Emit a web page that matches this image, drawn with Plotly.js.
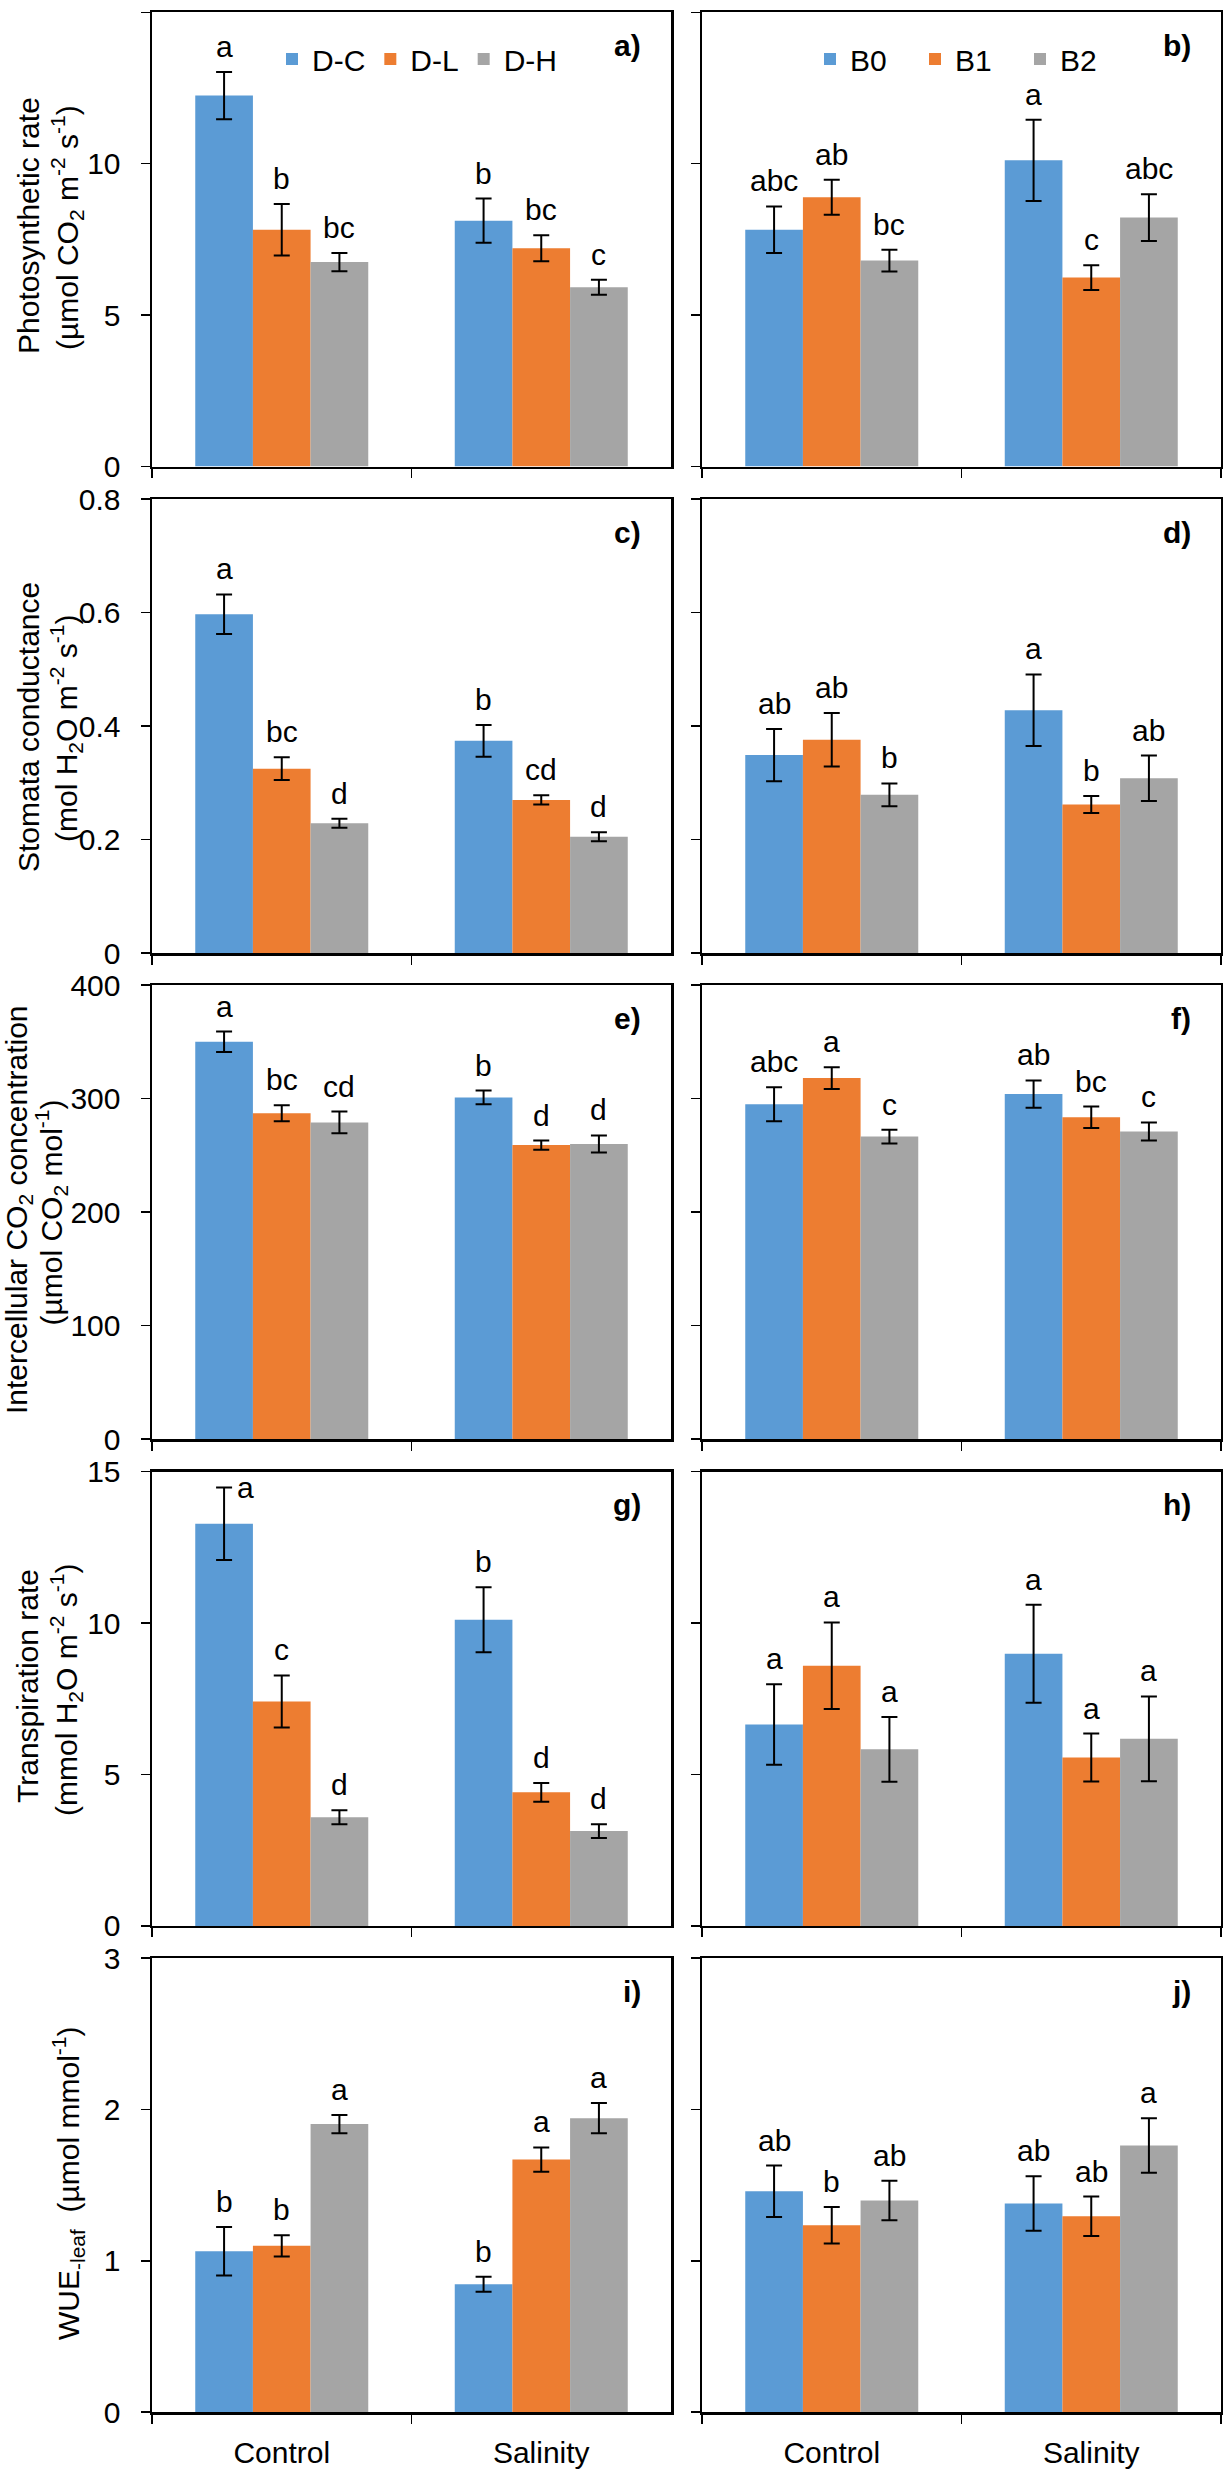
<!DOCTYPE html>
<html><head><meta charset="utf-8">
<script src="https://cdn.plot.ly/plotly-3.0.1.min.js"></script>
<style>html,body{margin:0;padding:0;background:#fff}#chart{width:1223px;height:2469px}</style>
</head><body><div id="chart"></div>
<script>
// ---------- data ----------
const groups = ['Control', 'Salinity'];
const seriesD = ['D-C', 'D-L', 'D-H'];
const seriesB = ['B0', 'B1', 'B2'];
const colors = ['#5B9BD5', '#ED7D31', '#A5A5A5'];

// a) photosynthetic rate, D series  (rows = series, cols = groups)
const photoD      = [[12.25, 8.12], [7.82, 7.21], [6.75, 5.92]];
const photoD_err  = [[0.78, 0.73], [0.85, 0.43], [0.30, 0.25]];
const photoD_let  = [['a', 'b'], ['b', 'bc'], ['bc', 'c']];
// b) photosynthetic rate, B series
const photoB      = [[7.82, 10.11], [8.89, 6.24], [6.80, 8.22]];
const photoB_err  = [[0.77, 1.34], [0.58, 0.41], [0.36, 0.77]];
const photoB_let  = [['abc', 'a'], ['ab', 'c'], ['bc', 'abc']];
// c) stomata conductance, D
const stomD       = [[0.597, 0.374], [0.325, 0.270], [0.229, 0.205]];
const stomD_err   = [[0.035, 0.028], [0.020, 0.008], [0.008, 0.008]];
const stomD_let   = [['a', 'b'], ['bc', 'cd'], ['d', 'd']];
// d) stomata conductance, B
const stomB       = [[0.349, 0.428], [0.376, 0.262], [0.279, 0.308]];
const stomB_err   = [[0.046, 0.063], [0.047, 0.015], [0.020, 0.040]];
const stomB_let   = [['ab', 'a'], ['ab', 'b'], ['b', 'ab']];
// e) intercellular CO2, D
const ciD         = [[350, 301], [287, 259], [279, 260]];
const ciD_err     = [[9, 6], [7, 4], [9.5, 7.5]];
const ciD_let     = [['a', 'b'], ['bc', 'd'], ['cd', 'd']];
// f) intercellular CO2, B
const ciB         = [[295, 304], [318, 283.5], [266.5, 271]];
const ciB_err     = [[15, 12], [9.5, 9.5], [6, 8]];
const ciB_let     = [['abc', 'ab'], ['a', 'bc'], ['c', 'c']];
// g) transpiration rate, D
const trD         = [[13.28, 10.11], [7.41, 4.41], [3.59, 3.13]];
const trD_err     = [[1.20, 1.07], [0.86, 0.31], [0.23, 0.23]];
const trD_let     = [['a', 'b'], ['c', 'd'], ['d', 'd']];
// h) transpiration rate, B
const trB         = [[6.65, 8.99], [8.59, 5.56], [5.83, 6.18]];
const trB_err     = [[1.33, 1.62], [1.43, 0.79], [1.07, 1.40]];
const trB_let     = [['a', 'a'], ['a', 'a'], ['a', 'a']];
// i) WUE leaf, D
const wueD        = [[1.063, 0.845], [1.099, 1.669], [1.903, 1.942]];
const wueD_err    = [[0.16, 0.05], [0.07, 0.08], [0.06, 0.10]];
const wueD_let    = [['b', 'b'], ['b', 'a'], ['a', 'a']];
// j) WUE leaf, B
const wueB        = [[1.459, 1.378], [1.235, 1.294], [1.398, 1.762]];
const wueB_err    = [[0.17, 0.18], [0.12, 0.13], [0.13, 0.18]];
const wueB_let    = [['ab', 'ab'], ['b', 'ab'], ['ab', 'a']];

// axis tick setups per row
const yRanges = [15, 0.8, 400, 15, 3];
const yDticks = [5, 0.2, 100, 5, 1];
const yTitles = [
  ['Photosynthetic rate', '(µmol CO<sub>2</sub> m<sup>-2</sup> s<sup>-1</sup>)'],
  ['Stomata conductance', '(mol H<sub>2</sub>O m<sup>-2</sup> s<sup>-1</sup>)'],
  ['Intercellular CO<sub>2</sub> concentration', '(µmol CO<sub>2</sub> mol<sup>-1</sup>)'],
  ['Transpiration rate', '(mmol H<sub>2</sub>O m<sup>-2</sup> s<sup>-1</sup>)'],
  ['WUE<sub>-leaf</sub>  (µmol mmol<sup>-1</sup>)']
];
const panelLabels = ['a)', 'b)', 'c)', 'd)', 'e)', 'f)', 'g)', 'h)', 'i)', 'j)'];

// ---------- layout geometry ----------
const W = 1223, H = 2469;
const FONT = 'Liberation Sans, Arial, Helvetica, sans-serif';
const FS = 30;
const rowTop = [12.3, 499, 985, 1471.7, 1958];
const PH = 454.2;
const colLeft = [152, 702];
const PW = 519;
const BARGAP = 1 / 3;
// title line centres (px): [x1, y1, x2, y2]
const titlePos = [
  [28, 226, 67, 228],
  [28, 727, 66, 729],
  [18, 1210, 51.5, 1213],
  [28, 1686, 66, 1690],
  [68, 2183]
];

const panels = [
  [photoD, photoD_err, photoD_let], [photoB, photoB_err, photoB_let],
  [stomD, stomD_err, stomD_let],   [stomB, stomB_err, stomB_let],
  [ciD, ciD_err, ciD_let],         [ciB, ciB_err, ciB_let],
  [trD, trD_err, trD_let],         [trB, trB_err, trB_let],
  [wueD, wueD_err, wueD_let],      [wueB, wueB_err, wueB_let]
];

const traces = [];
const annotations = [];
const layout = {
  width: W, height: H,
  margin: {l: 0, r: 0, t: 0, b: 0},
  paper_bgcolor: '#fff', plot_bgcolor: '#fff',
  font: {family: FONT, size: FS, color: '#000'},
  barmode: 'group', bargap: BARGAP, bargroupgap: 0,
  showlegend: true,
  legend: {orientation: 'h', x: 272 / W, y: 1 - 59 / H, xanchor: 'left', yanchor: 'middle',
           font: {size: FS}, bgcolor: 'rgba(0,0,0,0)', traceorder: 'normal'},
  legend2: {orientation: 'h', x: 810 / W, y: 1 - 59 / H, xanchor: 'left', yanchor: 'middle',
            font: {size: FS}, bgcolor: 'rgba(0,0,0,0)', traceorder: 'normal',
            entrywidth: 60, entrywidthmode: 'pixels'},
  annotations: annotations
};

const barW = (1 - BARGAP) / 3;

panels.forEach(function (p, idx) {
  const row = Math.floor(idx / 2), col = idx % 2;
  const n = idx + 1;
  const xk = n === 1 ? 'xaxis' : 'xaxis' + n;
  const yk = n === 1 ? 'yaxis' : 'yaxis' + n;
  const xr = n === 1 ? 'x' : 'x' + n;
  const yr = n === 1 ? 'y' : 'y' + n;
  const names = col === 0 ? seriesD : seriesB;
  const vals = p[0], errs = p[1], lets = p[2];

  layout[xk] = {
    domain: [colLeft[col] / W, (colLeft[col] + PW) / W],
    anchor: yr, type: 'category', categoryorder: 'array', categoryarray: groups,
    range: [-0.5, 1.5], fixedrange: true,
    showline: true, linecolor: '#000', linewidth: 2.5, mirror: true,
    ticks: 'outside', tickson: 'boundaries', ticklen: 9, tickwidth: 1.5, tickcolor: '#000',
    showticklabels: row === 4, tickfont: {size: FS, family: FONT}, ticklabelstandoff: 12,
    showgrid: false, zeroline: false
  };
  layout[yk] = {
    domain: [1 - (rowTop[row] + PH) / H, 1 - rowTop[row] / H],
    anchor: xr, range: [0, yRanges[row]], dtick: yDticks[row], tick0: 0, fixedrange: true,
    showline: true, linecolor: '#000', linewidth: 2.5, mirror: true,
    ticks: 'outside', ticklen: 9, tickwidth: 1.5, tickcolor: '#000',
    showticklabels: col === 0, tickfont: {size: FS, family: FONT}, ticklabelstandoff: 14,
    showgrid: false, zeroline: false
  };

  for (let s = 0; s < 3; s++) {
    traces.push({
      type: 'bar', x: groups, y: vals[s], name: names[s],
      xaxis: xr, yaxis: yr,
      marker: {color: colors[s], line: {width: 0}},
      error_y: {type: 'data', array: errs[s], visible: true, color: '#000', thickness: 2, width: 8},
      legend: col === 0 ? 'legend' : 'legend2',
      showlegend: row === 0,
      hoverinfo: 'skip'
    });
    const pxPerUnit = PH / yRanges[row];
    for (let k = 0; k < 2; k++) {
      const top = vals[s][k] + errs[s][k];
      const xpos = k + (s - 1) * barW;
      const overflow = top + 38 / pxPerUnit > yRanges[row];
      annotations.push(overflow ? {
        xref: xr, yref: yr, x: xpos, y: top, text: lets[s][k], showarrow: false,
        xanchor: 'left', yanchor: 'middle', xshift: 11, yshift: 0,
        font: {size: FS, family: FONT, color: '#000'}
      } : {
        xref: xr, yref: yr, x: xpos, y: top, text: lets[s][k], showarrow: false,
        xanchor: 'center', yanchor: 'bottom', yshift: 7,
        font: {size: FS, family: FONT, color: '#000'}
      });
    }
  }
  // panel label
  annotations.push({
    xref: xr + ' domain', yref: yr + ' domain', x: 1, y: 1,
    xanchor: 'right', yanchor: 'middle', xshift: -28, yshift: -33,
    text: '<b>' + panelLabels[idx] + '</b>', showarrow: false,
    font: {size: FS, family: FONT, color: '#000'}
  });
  // y-axis titles on left column
  if (col === 0) {
    const tp = titlePos[row];
    const lines = yTitles[row];
    lines.forEach(function (t, li) {
      annotations.push({
        xref: 'paper', yref: 'paper',
        x: tp[li * 2] / W, y: 1 - tp[li * 2 + 1] / H,
        xanchor: 'center', yanchor: 'middle', textangle: -90,
        text: t, showarrow: false,
        font: {size: FS, family: FONT, color: '#000'}
      });
    });
  }
});

Plotly.newPlot('chart', traces, layout, {displayModeBar: false, staticPlot: true});
</script>
</body></html>
